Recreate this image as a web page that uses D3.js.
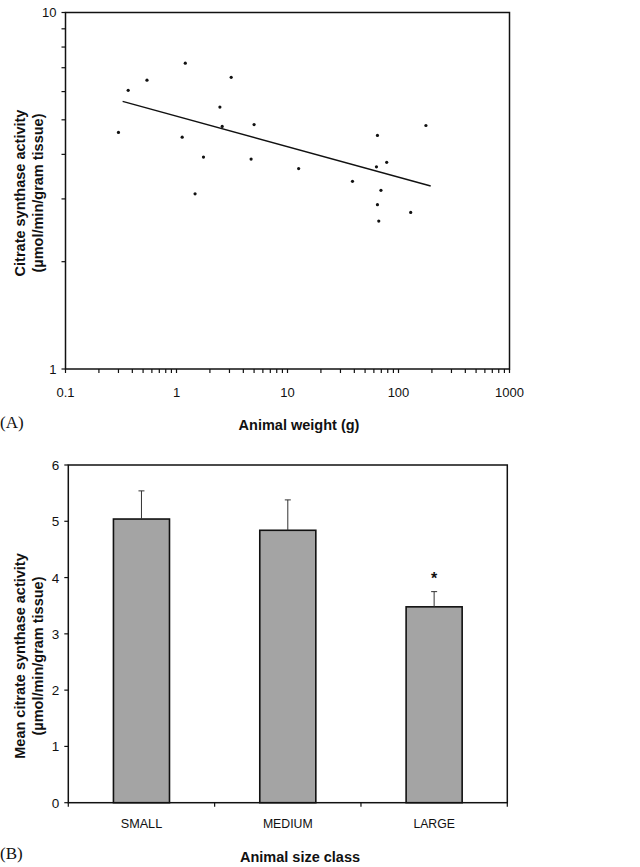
<!DOCTYPE html>
<html>
<head>
<meta charset="utf-8">
<script src="https://cdn.jsdelivr.net/npm/d3@7"></script>
<style>
  body { margin: 0; background: #fff; }
  svg { display: block; }
  text { font-family: "Liberation Sans", Arial, sans-serif; fill: #111; }
</style>
</head>
<body>
<svg id="chart" width="640" height="867"></svg>
<script>
// ---- Panel A data (log-log scatter) ----
const weights = [0.30, 0.367, 0.542, 1.20, 1.125, 1.75, 1.47, 2.46, 2.58, 3.11, 5.0, 4.70, 12.6, 38.5, 64.6, 63.3, 78.3, 69.5, 64.6, 66.4, 128.8, 176.6];
const activity = [4.61, 6.05, 6.46, 7.21, 4.47, 3.93, 3.10, 5.43, 4.79, 6.58, 4.85, 3.88, 3.65, 3.36, 4.52, 3.69, 3.80, 3.17, 2.89, 2.60, 2.75, 4.82];
const trendX = [0.327, 195];
const trendY = [5.63, 3.26];
const xTicksA = [0.1, 1, 10, 100, 1000];
const xTickLabelsA = ["0.1", "1", "10", "100", "1000"];
const yTicksA = [1, 10];
const yTickLabelsA = ["1", "10"];

// ---- Panel B data (bar chart) ----
const sizeClasses = ["SMALL", "MEDIUM", "LARGE"];
const meanActivity = [5.04, 4.84, 3.48];
const errTop = [5.54, 5.38, 3.75];
const significant = [false, false, true];
const yTicksB = [0, 1, 2, 3, 4, 5, 6];

const svg = d3.select("#chart");
const serif = "'Liberation Serif', 'Times New Roman', serif";

// ================= Panel A =================
const xA = d3.scaleLog().domain([0.1, 1000]).range([65.5, 509.5]);
const yA = d3.scaleLog().domain([1, 10]).range([369, 12.5]);
const gA = svg.append("g");

gA.append("rect")
  .attr("x", xA.range()[0]).attr("y", yA.range()[1])
  .attr("width", xA.range()[1] - xA.range()[0])
  .attr("height", yA.range()[0] - yA.range()[1])
  .attr("fill", "none").attr("stroke", "#111").attr("stroke-width", 1.5);

const xMinorA = [];
for (let d = 0.1; d < 1000; d *= 10) for (let k = 1; k <= 9; k++) xMinorA.push(d * k);
xMinorA.push(1000);
gA.selectAll(".xt").data(xMinorA).join("line")
  .attr("x1", d => xA(d)).attr("x2", d => xA(d))
  .attr("y1", yA(1)).attr("y2", yA(1) + 4)
  .attr("stroke", "#111").attr("stroke-width", 1.2);

const yMinorA = d3.range(1, 11);
gA.selectAll(".yt").data(yMinorA).join("line")
  .attr("x1", xA(0.1) - 4).attr("x2", xA(0.1))
  .attr("y1", d => yA(d)).attr("y2", d => yA(d))
  .attr("stroke", "#111").attr("stroke-width", 1.2);

gA.selectAll(".xl").data(xTicksA).join("text")
  .attr("x", d => xA(d)).attr("y", yA(1) + 28)
  .attr("text-anchor", "middle").attr("font-size", 13)
  .text((d, i) => xTickLabelsA[i]);
gA.selectAll(".yl").data(yTicksA).join("text")
  .attr("x", xA(0.1) - 9).attr("y", d => yA(d) + 4.5)
  .attr("text-anchor", "end").attr("font-size", 13)
  .text((d, i) => yTickLabelsA[i]);

gA.selectAll(".pt").data(weights).join("circle")
  .attr("cx", d => xA(d)).attr("cy", (d, i) => yA(activity[i]))
  .attr("r", 1.6).attr("fill", "#111");

gA.append("line")
  .attr("x1", xA(trendX[0])).attr("y1", yA(trendY[0]))
  .attr("x2", xA(trendX[1])).attr("y2", yA(trendY[1]))
  .attr("stroke", "#111").attr("stroke-width", 1.4);

const ycA = 193;
gA.append("text").attr("transform", `translate(25,${ycA}) rotate(-90)`)
  .attr("text-anchor", "middle").attr("font-size", 14.5).attr("font-weight", "bold")
  .text("Citrate synthase activity");
gA.append("text").attr("transform", `translate(43,${ycA}) rotate(-90)`)
  .attr("text-anchor", "middle").attr("font-size", 14.5).attr("font-weight", "bold")
  .text("(\u00b5mol/min/gram tissue)");
gA.append("text").attr("x", 299).attr("y", 430)
  .attr("text-anchor", "middle").attr("font-size", 14.5).attr("font-weight", "bold")
  .text("Animal weight (g)");
gA.append("text").attr("x", 0).attr("y", 428)
  .style("font-family", serif).attr("font-size", 17).text("(A)");

// ================= Panel B =================
const xB = d3.scaleBand().domain(sizeClasses).range([68.3, 507.3])
  .paddingInner(0.617).paddingOuter(0.3085);
const yB = d3.scaleLinear().domain([0, 6]).range([802.7, 465]);
const gB = svg.append("g");

gB.append("rect")
  .attr("x", xB.range()[0]).attr("y", yB(6))
  .attr("width", xB.range()[1] - xB.range()[0])
  .attr("height", yB(0) - yB(6))
  .attr("fill", "none").attr("stroke", "#111").attr("stroke-width", 1.5);

gB.selectAll(".yt").data(yTicksB).join("line")
  .attr("x1", xB.range()[0] - 4).attr("x2", xB.range()[0])
  .attr("y1", d => yB(d)).attr("y2", d => yB(d))
  .attr("stroke", "#111").attr("stroke-width", 1.2);
gB.selectAll(".yl").data(yTicksB).join("text")
  .attr("x", xB.range()[0] - 9).attr("y", d => yB(d) + 5)
  .attr("text-anchor", "end").attr("font-size", 13.5)
  .text(d => d);

const bounds = d3.range(sizeClasses.length + 1).map(i => xB.range()[0] + i * xB.step());
gB.selectAll(".xt").data(bounds).join("line")
  .attr("x1", d => d).attr("x2", d => d)
  .attr("y1", yB(0)).attr("y2", yB(0) + 4)
  .attr("stroke", "#111").attr("stroke-width", 1.2);

gB.selectAll(".bar").data(sizeClasses).join("rect")
  .attr("x", d => xB(d)).attr("width", xB.bandwidth())
  .attr("y", (d, i) => yB(meanActivity[i]))
  .attr("height", (d, i) => yB(0) - yB(meanActivity[i]))
  .attr("fill", "#a4a4a4").attr("stroke", "#111").attr("stroke-width", 1.6);

gB.selectAll(".err").data(sizeClasses).join("line")
  .attr("x1", d => xB(d) + xB.bandwidth() / 2).attr("x2", d => xB(d) + xB.bandwidth() / 2)
  .attr("y1", (d, i) => yB(meanActivity[i])).attr("y2", (d, i) => yB(errTop[i]))
  .attr("stroke", "#333").attr("stroke-width", 1);
gB.selectAll(".cap").data(sizeClasses).join("line")
  .attr("x1", d => xB(d) + xB.bandwidth() / 2 - 3).attr("x2", d => xB(d) + xB.bandwidth() / 2 + 3)
  .attr("y1", (d, i) => yB(errTop[i])).attr("y2", (d, i) => yB(errTop[i]))
  .attr("stroke", "#333").attr("stroke-width", 1);

gB.selectAll(".star").data(sizeClasses.filter((d, i) => significant[i])).join("text")
  .attr("x", d => xB(d) + xB.bandwidth() / 2)
  .attr("y", d => yB(errTop[sizeClasses.indexOf(d)]) - 8)
  .attr("text-anchor", "middle").attr("font-size", 16).attr("font-weight", "bold")
  .text("*");

gB.selectAll(".xl").data(sizeClasses).join("text")
  .attr("x", d => xB(d) + xB.bandwidth() / 2).attr("y", yB(0) + 25)
  .attr("text-anchor", "middle").attr("font-size", 13)
  .attr("textLength", d => d.length * 8.3).attr("lengthAdjust", "spacingAndGlyphs")
  .text(d => d);

const ycB = 656;
gB.append("text").attr("transform", `translate(25,${ycB}) rotate(-90)`)
  .attr("text-anchor", "middle").attr("font-size", 14.5).attr("font-weight", "bold")
  .text("Mean citrate synthase activity");
gB.append("text").attr("transform", `translate(43,${ycB}) rotate(-90)`)
  .attr("text-anchor", "middle").attr("font-size", 14.5).attr("font-weight", "bold")
  .text("(\u00b5mol/min/gram tissue)");
gB.append("text").attr("x", 300).attr("y", 862)
  .attr("text-anchor", "middle").attr("font-size", 14.5).attr("font-weight", "bold")
  .text("Animal size class");
gB.append("text").attr("x", 0).attr("y", 859)
  .style("font-family", serif).attr("font-size", 17).text("(B)");
</script>
</body>
</html>
